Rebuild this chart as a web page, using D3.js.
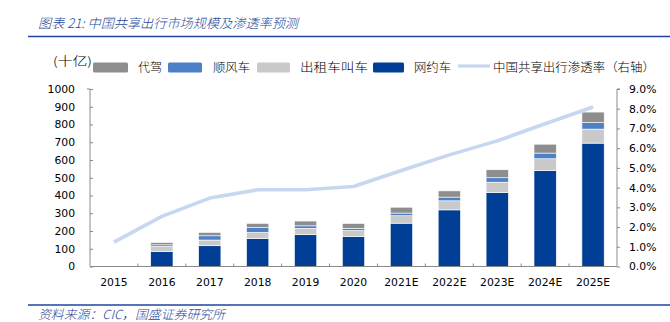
<!DOCTYPE html>
<html><head><meta charset="utf-8">
<script src="https://cdn.jsdelivr.net/npm/d3@7"></script>
<style>
html,body{margin:0;padding:0;background:#fff;}
svg{display:block;}
</style></head>
<body>
<script>
const categories = ["2015","2016","2017","2018","2019","2020","2021E","2022E","2023E","2024E","2025E"];
const wangyue  = [0, 85, 117, 158, 180, 169, 244, 319, 417, 541, 695];
const taxi     = [0, 28, 32, 34, 35, 34, 42, 51, 58, 66, 79];
const shunfeng = [0, 9, 24, 27, 14, 12, 15, 21, 25, 32, 37];
const daijia   = [0, 13, 19, 24, 27, 27, 33, 35, 45, 50, 59];
const rate     = [1.24, 2.54, 3.47, 3.89, 3.89, 4.06, 4.87, 5.66, 6.37, 7.24, 8.09];
const leftTicks  = [0,100,200,300,400,500,600,700,800,900,1000];
const rightTicks = [0,1,2,3,4,5,6,7,8,9];
const seriesNames = ["网约车","出租车叫车","顺风车","代驾"];
const seriesKeys = ["wangyue","taxi","shunfeng","daijia"];
const colors = {wangyue:"#003f95", taxi:"#c9c9c9", shunfeng:"#4d80c6", daijia:"#8e8e8e"};
const lineColor = "#c6d7ef";

const W = 670, H = 322;
const svg = d3.select("body").append("svg").attr("width", W).attr("height", H);
const blue = "#1f45a0";
const cjk = "'Noto Sans CJK SC', sans-serif";
const num = "'DejaVu Sans', Verdana, sans-serif";

// Title
svg.append("text").attr("x", 38).attr("y", 27.5)
  .attr("font-family", cjk).attr("font-size", 13).attr("font-style","italic").attr("font-weight", 300)
  .attr("fill", "#24479a").attr("textLength", 260).attr("lengthAdjust","spacingAndGlyphs")
  .text("图表 21:  中国共享出行市场规模及渗透率预测");
svg.append("line").attr("x1", 28).attr("x2", 670).attr("y1", 36.5).attr("y2", 36.5)
  .attr("stroke", blue).attr("stroke-width", 1.6);

// Source
svg.append("line").attr("x1", 28).attr("x2", 670).attr("y1", 305).attr("y2", 305)
  .attr("stroke", blue).attr("stroke-width", 1.4);
svg.append("text").attr("x", 38).attr("y", 318.5)
  .attr("font-family", cjk).attr("font-size", 12.5).attr("font-style","italic").attr("font-weight", 300)
  .attr("fill", "#24479a").attr("textLength", 187).attr("lengthAdjust","spacingAndGlyphs")
  .text("资料来源：CIC，国盛证券研究所");

// Scales
const x = d3.scaleBand().domain(categories).range([90, 617]).paddingInner(0.535).paddingOuter(0.2675);
const xb = d3.scaleBand().domain(categories).range([90, 617]);
const y = d3.scaleLinear().domain([0, 1000]).range([266.5, 89]);
const yr = d3.scaleLinear().domain([0, 9]).range([266.5, 89]);

// Stack
const rows = categories.map((c, i) => ({cat: c, wangyue: wangyue[i], taxi: taxi[i], shunfeng: shunfeng[i], daijia: daijia[i]}));
const stack = d3.stack().keys(seriesKeys)(rows);

const gBars = svg.append("g");
stack.forEach(layer => {
  gBars.selectAll(null).data(layer.filter(d => d[1] - d[0] > 0)).enter().append("rect")
    .attr("x", d => x(d.data.cat))
    .attr("width", x.bandwidth())
    .attr("y", d => y(d[1]))
    .attr("height", d => y(d[0]) - y(d[1]))
    .attr("fill", colors[layer.key])
    .attr("stroke", "#ffffff").attr("stroke-width", 0.6);
});

// Axes
const axisColor = "#8a8a8a";
const gl = svg.append("g").attr("transform", "translate(90,0)");
gl.call(d3.axisLeft(y).tickValues(leftTicks).tickSize(-3).tickPadding(15).tickFormat(d3.format("d")));
gl.select(".domain").attr("stroke", axisColor).attr("d", `M-3,${y(1000)}H0V${y(0)}`);
gl.selectAll(".tick line").attr("stroke", axisColor);
gl.selectAll("text").attr("font-family", num).attr("font-size", 10.8).attr("fill", "#000");

const gr = svg.append("g").attr("transform", "translate(617,0)");
gr.call(d3.axisRight(yr).tickValues(rightTicks).tickSize(3).tickPadding(9).tickFormat(d => d.toFixed(1) + "%"));
gr.select(".domain").attr("stroke", axisColor).attr("d", `M3,${yr(9)}H0V${yr(0)}`);
gr.selectAll(".tick line").attr("stroke", axisColor);
gr.selectAll("text").attr("font-family", num).attr("font-size", 10.8).attr("fill", "#000");

const gx = svg.append("g").attr("transform", `translate(0,${y(0)})`);
gx.call(d3.axisBottom(xb).tickSize(0).tickPadding(12));
gx.select(".domain").attr("stroke", axisColor).attr("d", `M90,0H617`);
gx.selectAll("text").attr("font-family", num).attr("font-size", 10.8).attr("fill", "#000");
const bounds = categories.slice(1).map(c => xb(c));
gx.selectAll(".btick").data(bounds).enter().append("line")
  .attr("x1", d => d).attr("x2", d => d).attr("y1", 0).attr("y2", -3)
  .attr("stroke", axisColor);

// Line
const line = d3.line().x((d, i) => xb(categories[i]) + xb.bandwidth() / 2).y(d => yr(d));
svg.append("path").datum(rate).attr("d", line)
  .attr("fill", "none").attr("stroke", lineColor).attr("stroke-width", 3.6)
  .attr("stroke-linejoin", "round");

// Legend
const lg = svg.append("g").attr("font-family", cjk).attr("font-size", 12).attr("font-weight", 300);
lg.append("text").attr("x", 53).attr("y", 66).attr("fill", "#000")
  .attr("textLength", 39).attr("lengthAdjust","spacingAndGlyphs").text("(十亿)");
const legendItems = [
  {key: "daijia", name: "代驾", sx: 93, sw: 35, tx: 138, tw: 24},
  {key: "shunfeng", name: "顺风车", sx: 168, sw: 34, tx: 213, tw: 37},
  {key: "taxi", name: "出租车叫车", sx: 257, sw: 33, tx: 300, tw: 68},
  {key: "wangyue", name: "网约车", sx: 373, sw: 31, tx: 414, tw: 37},
];
legendItems.forEach(it => {
  lg.append("rect").attr("x", it.sx).attr("y", 62.5).attr("width", it.sw).attr("height", 10)
    .attr("rx", 1.5).attr("fill", colors[it.key]);
  lg.append("text").attr("x", it.tx).attr("y", 71.5).attr("fill", "#000")
    .attr("textLength", it.tw).attr("lengthAdjust","spacingAndGlyphs").text(it.name);
});
lg.append("line").attr("x1", 458).attr("x2", 490).attr("y1", 66).attr("y2", 66)
  .attr("stroke", lineColor).attr("stroke-width", 3.2);
lg.append("text").attr("x", 493).attr("y", 71.5).attr("fill", "#000")
  .attr("textLength", 162).attr("lengthAdjust","spacingAndGlyphs").text("中国共享出行渗透率（右轴）");
</script>
</body></html>
